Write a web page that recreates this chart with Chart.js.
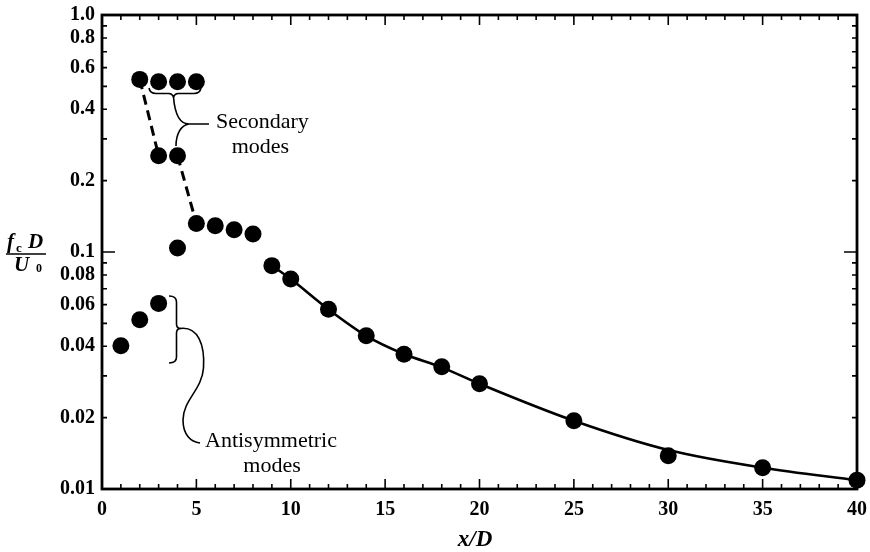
<!DOCTYPE html>
<html>
<head>
<meta charset="utf-8">
<script src="https://cdn.jsdelivr.net/npm/chart.js@4.4.1/dist/chart.umd.min.js"></script>
<style>
  html, body { margin: 0; padding: 0; background: #fff; }
  #wrap { width: 870px; height: 552px; position: relative; }
</style>
</head>
<body>
<div id="wrap"><canvas id="chart"></canvas></div>
<script>
// values (x/D against fc D / U0)
const mainX = [4, 5, 6, 7, 8, 9, 10, 12, 14, 16, 18, 20, 25, 30, 35, 40];
const mainY = [0.104, 0.132, 0.129, 0.124, 0.119, 0.0876, 0.0769, 0.0573, 0.0443, 0.0370, 0.0328, 0.0278, 0.0194, 0.0138, 0.0123, 0.0109];

const secTopX = [2, 3, 4, 5];
const secTopY = [0.535, 0.523, 0.523, 0.523];
const secLowX = [3, 4];
const secLowY = [0.255, 0.255];

const antiX = [1, 2, 3];
const antiY = [0.0402, 0.0518, 0.0607];

// dashed connectors
const dashAX = [2, 3];
const dashAY = [0.535, 0.255];
const dashBX = [4, 5];
const dashBY = [0.255, 0.132];

// solid fitted curve
const fitX = [9, 10, 12, 14, 16, 18, 20, 25, 30, 35, 40];
const fitY = [0.0876, 0.0769, 0.0573, 0.0443, 0.0371, 0.0326, 0.0278, 0.0194, 0.0146, 0.0123, 0.0109];

// axis ticks
const xTicks = [0, 5, 10, 15, 20, 25, 30, 35, 40];
const yTicks = [0.01, 0.02, 0.04, 0.06, 0.08, 0.1, 0.2, 0.4, 0.6, 0.8, 1.0];
const yTickLabels = ['0.01', '0.02', '0.04', '0.06', '0.08', '0.1', '0.2', '0.4', '0.6', '0.8', '1.0'];

const SERIF = '"Liberation Serif", "Times New Roman", serif';

function pts(xs, ys) {
  return xs.map((x, i) => ({ x: x, y: ys[i] }));
}

function dots(xs, ys) {
  return {
    data: pts(xs, ys),
    showLine: false,
    pointRadius: 8.5,
    pointHoverRadius: 8.5,
    pointBackgroundColor: '#000',
    pointBorderWidth: 0,
    clip: false,
    order: 1
  };
}

// frame, inward ticks, braces and labels
const decorPlugin = {
  id: 'decor',
  afterDraw(chart) {
    const ctx = chart.ctx;
    const a = chart.chartArea;
    const xs = chart.scales.x;
    const ys = chart.scales.y;
    ctx.save();
    ctx.strokeStyle = '#000';
    ctx.fillStyle = '#000';

    // ticks
    ctx.lineWidth = 1.6;
    ctx.beginPath();
    for (let v = 0; v <= 40; v++) {
      const px = xs.getPixelForValue(v);
      const len = v % 5 === 0 ? 10 : 5;
      ctx.moveTo(px, a.bottom); ctx.lineTo(px, a.bottom - len);
      ctx.moveTo(px, a.top); ctx.lineTo(px, a.top + len);
    }
    [0.01, 0.1].forEach(d => {
      for (let m = 1; m <= 9; m++) {
        const py = ys.getPixelForValue(m * d);
        const len = (m === 1 && d === 0.1) ? 13 : 5;
        ctx.moveTo(a.left, py); ctx.lineTo(a.left + len, py);
        ctx.moveTo(a.right, py); ctx.lineTo(a.right - len, py);
      }
    });
    ctx.stroke();

    // frame
    ctx.lineWidth = 2.8;
    ctx.strokeRect(a.left, a.top, a.right - a.left, a.bottom - a.top);

    // secondary modes brace
    ctx.lineWidth = 1.6;
    ctx.beginPath();
    ctx.moveTo(149, 88);
    ctx.quadraticCurveTo(150, 93.5, 156, 93.5);
    ctx.lineTo(169, 93.5);
    ctx.quadraticCurveTo(172, 93.5, 173.5, 97);
    ctx.quadraticCurveTo(175, 93.5, 178, 93.5);
    ctx.lineTo(194, 93.5);
    ctx.quadraticCurveTo(200, 93.5, 201, 88);
    ctx.stroke();
    ctx.beginPath();
    ctx.moveTo(173.5, 97);
    ctx.bezierCurveTo(175, 116, 180, 124, 189, 124);
    ctx.lineTo(209, 124);
    ctx.moveTo(189, 124);
    ctx.bezierCurveTo(181, 125, 176, 134, 176, 146);
    ctx.stroke();

    // antisymmetric modes brace
    ctx.beginPath();
    ctx.moveTo(169, 296);
    ctx.quadraticCurveTo(176.5, 296, 176.5, 302);
    ctx.lineTo(176.5, 324);
    ctx.quadraticCurveTo(176.5, 328, 180, 328.5);
    ctx.quadraticCurveTo(176.5, 329, 176.5, 333);
    ctx.lineTo(176.5, 357);
    ctx.quadraticCurveTo(176.5, 363, 169, 363);
    ctx.stroke();
    ctx.beginPath();
    ctx.moveTo(180, 328.5);
    ctx.bezierCurveTo(198, 326, 205, 345, 203.5, 368);
    ctx.bezierCurveTo(202, 390, 183, 400, 183, 420);
    ctx.bezierCurveTo(183, 435, 191, 442, 200, 443);
    ctx.stroke();

    // annotation text
    ctx.font = '22px ' + SERIF;
    ctx.textBaseline = 'middle';
    ctx.textAlign = 'left';
    const secW = ctx.measureText('Secondary').width;
    ctx.fillText('Secondary', 216, 122);
    ctx.textAlign = 'center';
    ctx.fillText('modes', 216 + secW / 2 - 2, 147);
    const antW = ctx.measureText('Antisymmetric').width;
    ctx.textAlign = 'left';
    ctx.fillText('Antisymmetric', 205, 441);
    ctx.textAlign = 'center';
    ctx.fillText('modes', 205 + antW / 2 + 1, 466);

    // y axis title as a fraction
    ctx.textAlign = 'left';
    ctx.textBaseline = 'alphabetic';
    ctx.font = 'italic bold 21px ' + SERIF;
    ctx.fillText('f', 7, 248);
    ctx.font = 'bold 13px ' + SERIF;
    ctx.fillText('c', 16, 252);
    ctx.font = 'italic bold 21px ' + SERIF;
    ctx.fillText('D', 28, 248);
    ctx.lineWidth = 1.6;
    ctx.beginPath();
    ctx.moveTo(6, 254); ctx.lineTo(46, 254);
    ctx.stroke();
    ctx.fillText('U', 14, 271);
    ctx.font = 'bold 12px ' + SERIF;
    ctx.fillText('0', 36, 272);

    // x axis title
    ctx.textAlign = 'center';
    ctx.textBaseline = 'middle';
    ctx.font = 'italic bold 23px ' + SERIF;
    ctx.fillText('x/D', 475, 540);

    ctx.restore();
  }
};

new Chart(document.getElementById('chart'), {
  type: 'scatter',
  data: {
    datasets: [
      dots(mainX, mainY),
      dots(secTopX, secTopY),
      dots(secLowX, secLowY),
      dots(antiX, antiY),
      {
        data: pts(dashAX, dashAY),
        showLine: true, pointRadius: 0,
        borderColor: '#000', borderWidth: 3, borderDash: [10, 6],
        order: 2
      },
      {
        data: pts(dashBX, dashBY),
        showLine: true, pointRadius: 0,
        borderColor: '#000', borderWidth: 3, borderDash: [10, 6],
        order: 2
      },
      {
        data: pts(fitX, fitY),
        showLine: true, pointRadius: 0,
        borderColor: '#000', borderWidth: 2.6,
        cubicInterpolationMode: 'monotone',
        clip: false,
        order: 2
      }
    ]
  },
  options: {
    responsive: true,
    maintainAspectRatio: false,
    animation: false,
    events: [],
    layout: { padding: { top: 15, right: 13, left: 0, bottom: 0 } },
    plugins: {
      legend: { display: false },
      tooltip: { enabled: false }
    },
    scales: {
      x: {
        type: 'linear',
        min: 0, max: 40,
        grid: { display: false, drawTicks: false },
        border: { display: false },
        afterBuildTicks: s => { s.ticks = xTicks.map(v => ({ value: v })); },
        afterFit: s => { s.height = 63; s.paddingLeft = 0; s.paddingRight = 0; },
        ticks: {
          color: '#000',
          padding: 9,
          maxRotation: 0,
          font: { family: SERIF, size: 20, weight: 'bold' }
        }
      },
      y: {
        type: 'logarithmic',
        min: 0.01, max: 1,
        grid: { display: false, drawTicks: false },
        border: { display: false },
        afterBuildTicks: s => { s.ticks = yTicks.map(v => ({ value: v })); },
        afterFit: s => { s.width = 102; s.paddingTop = 0; s.paddingBottom = 0; },
        ticks: {
          color: '#000',
          padding: 7,
          font: { family: SERIF, size: 20, weight: 'bold' },
          callback: (v) => {
            const i = yTicks.indexOf(v);
            return i >= 0 ? yTickLabels[i] : '';
          }
        }
      }
    }
  },
  plugins: [decorPlugin]
});
</script>
</body>
</html>
